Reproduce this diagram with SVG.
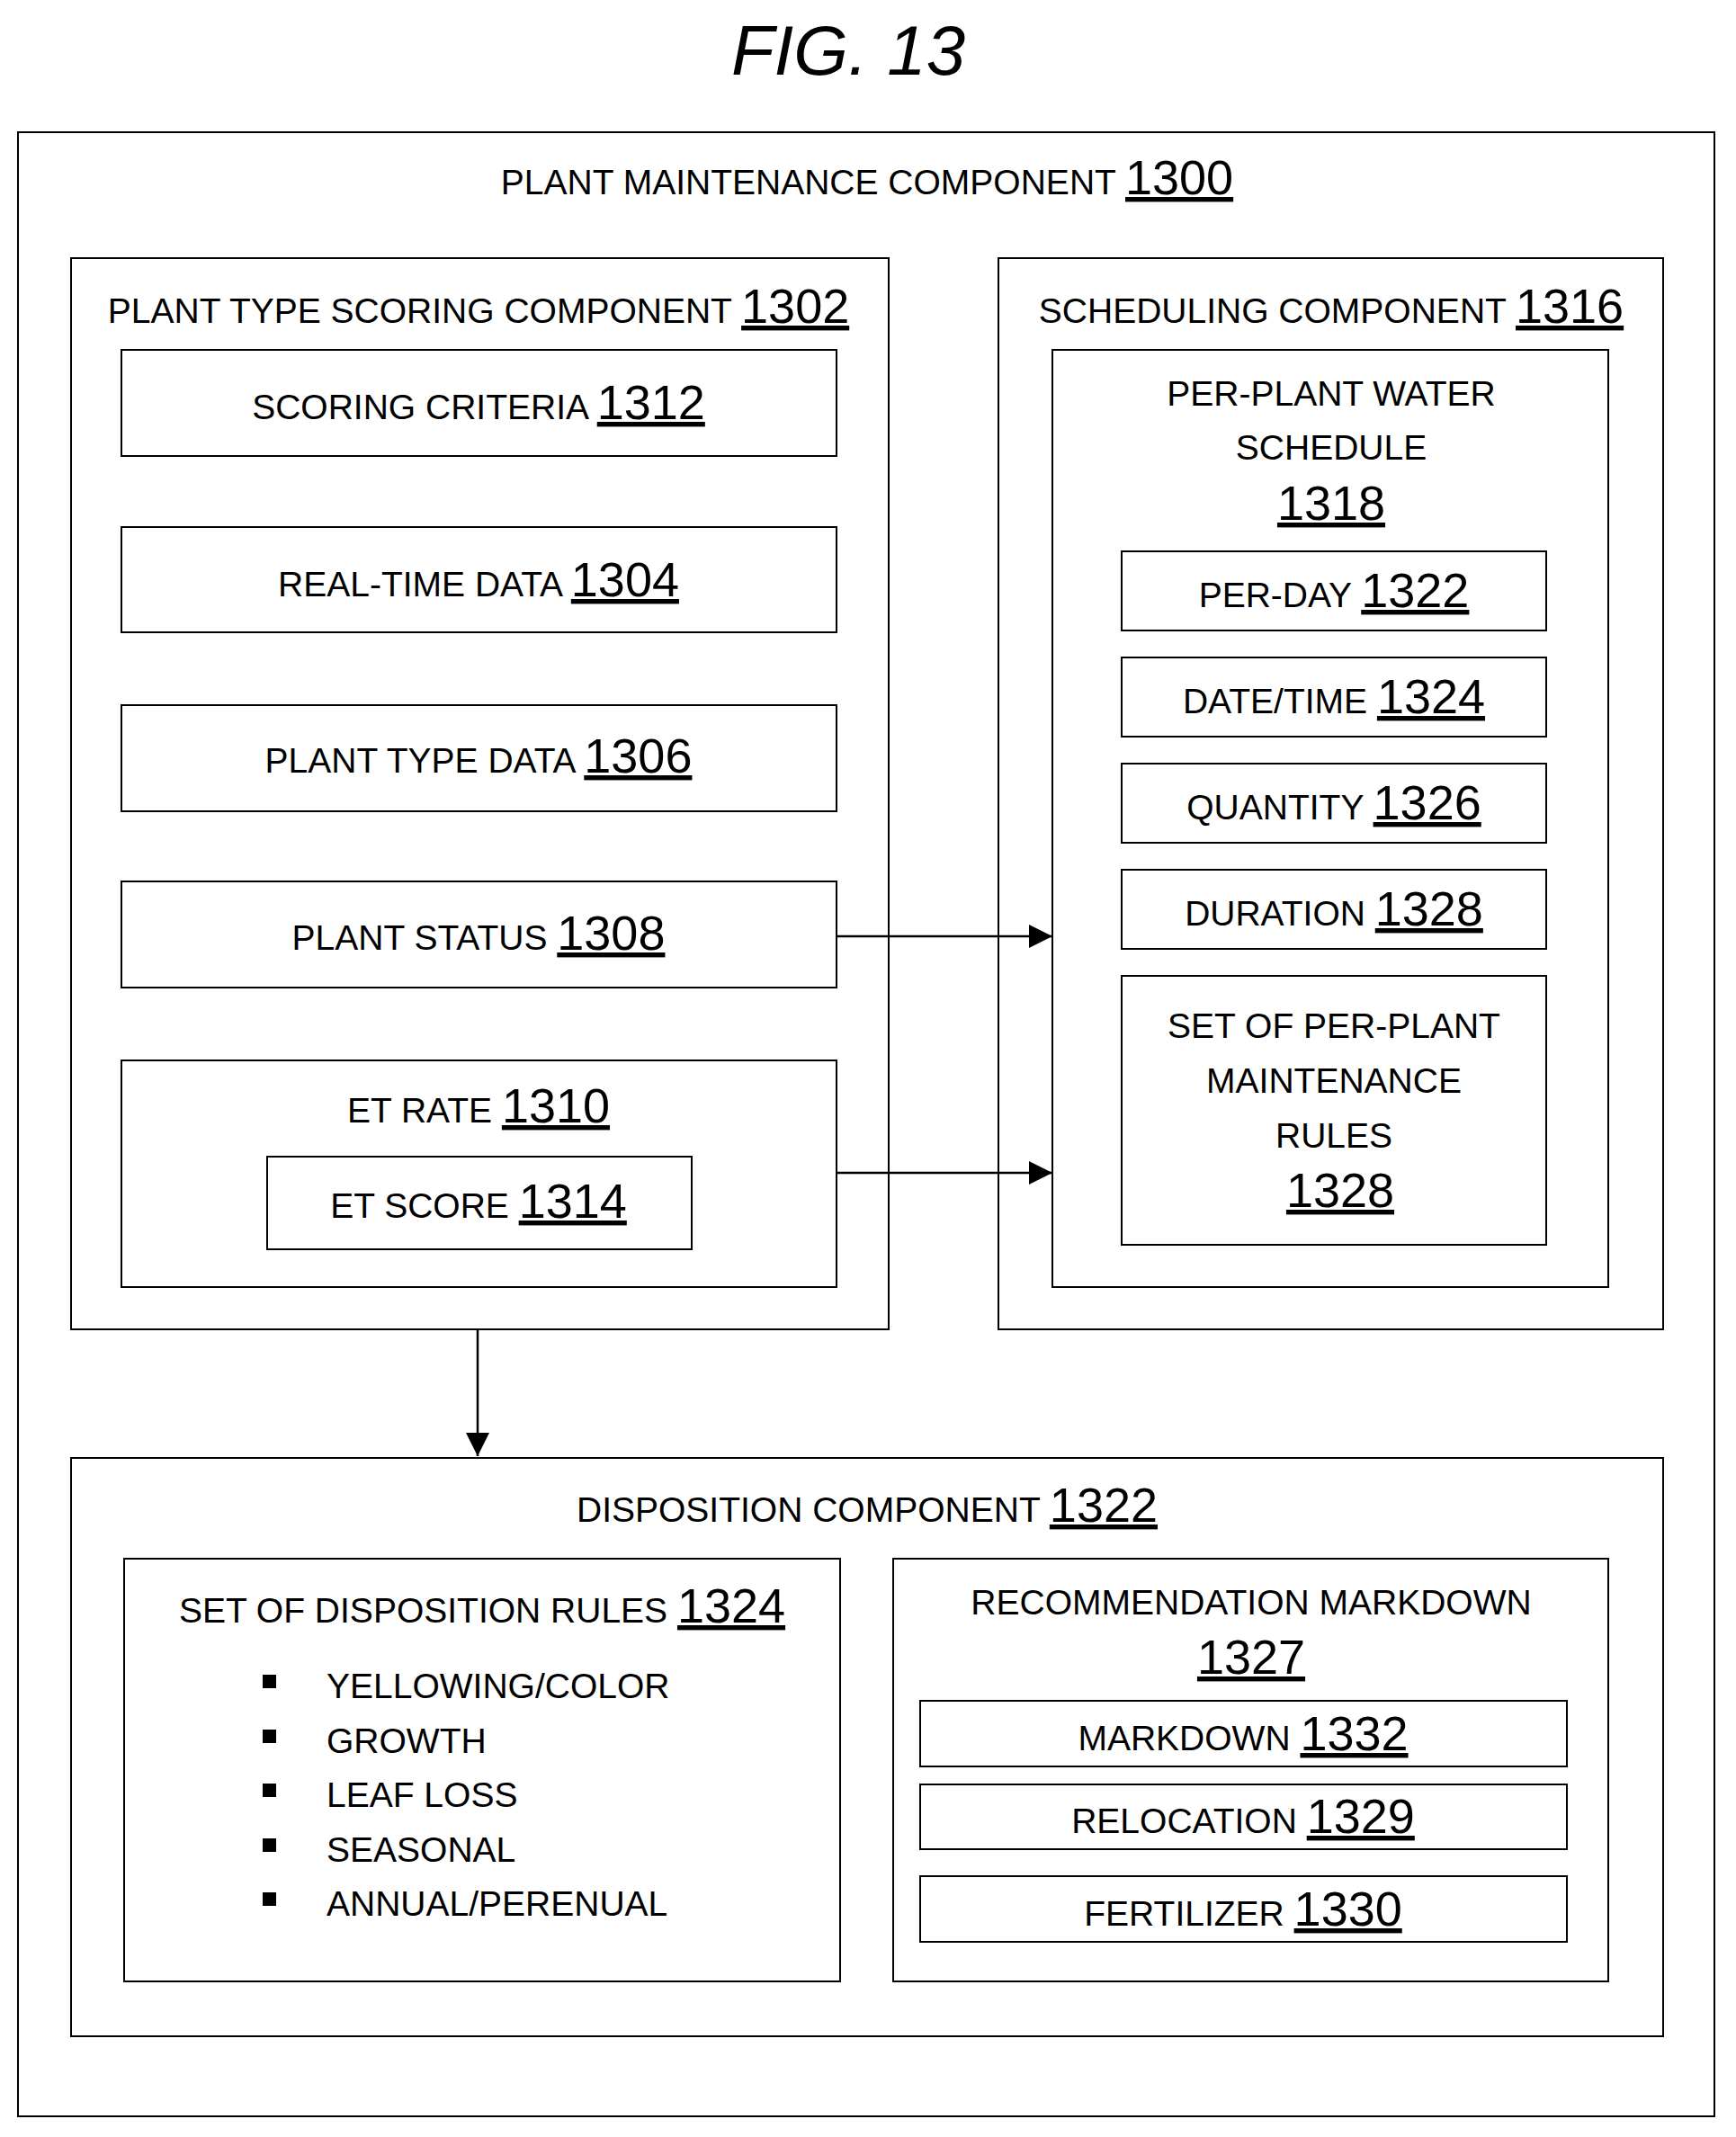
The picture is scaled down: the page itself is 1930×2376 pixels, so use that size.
<svg xmlns="http://www.w3.org/2000/svg" width="1930" height="2376" viewBox="0 0 1930 2376">
<style>
rect{fill:none;stroke:#000;stroke-width:2}
text{font-family:"Liberation Sans",Arial,sans-serif;font-size:39px;fill:#000;text-anchor:middle}
.n{font-size:54px;text-decoration:underline}
.l{text-anchor:start}
line{stroke:#000;stroke-width:2.5}
</style>
<defs><marker id="a" markerWidth="12" markerHeight="12" refX="11" refY="6" orient="auto" markerUnits="userSpaceOnUse"><path d="M0,0 L12,6 L0,12 Z" fill="#000" transform="scale(2.2) translate(-6,-3.3)"/></marker>
<marker id="b" viewBox="0 0 10 10" refX="10" refY="5" markerWidth="26" markerHeight="26" orient="auto" markerUnits="userSpaceOnUse"><path d="M0,0 L10,5 L0,10 Z" fill="#000"/></marker></defs>
<rect x="0" y="0" width="1930" height="2376" style="fill:#fff;stroke:none"/>
<text x="943" y="83" style="font-size:78px;font-style:italic">FIG. 13</text>
<g id="n1300"><rect x="20" y="147" width="1886" height="2206"/><text x="964" y="216">PLANT MAINTENANCE COMPONENT <tspan class="n">1300</tspan></text></g>
<g id="n1302"><rect x="79" y="287" width="909" height="1191"/><text x="532" y="359">PLANT TYPE SCORING COMPONENT <tspan class="n">1302</tspan></text></g>
<g id="n1312"><rect x="135" y="389" width="795" height="118"/><text x="532" y="466">SCORING CRITERIA <tspan class="n">1312</tspan></text></g>
<g id="n1304"><rect x="135" y="586" width="795" height="117"/><text x="532" y="663">REAL-TIME DATA <tspan class="n">1304</tspan></text></g>
<g id="n1306"><rect x="135" y="784" width="795" height="118"/><text x="532" y="859">PLANT TYPE DATA <tspan class="n">1306</tspan></text></g>
<g id="n1308"><rect x="135" y="980" width="795" height="118"/><text x="532" y="1056">PLANT STATUS <tspan class="n">1308</tspan></text></g>
<g id="n1310"><rect x="135" y="1179" width="795" height="252"/><text x="532" y="1248">ET RATE <tspan class="n">1310</tspan></text></g>
<g id="n1314"><rect x="297" y="1286" width="472" height="103"/><text x="532" y="1354">ET SCORE <tspan class="n">1314</tspan></text></g>
<g id="n1316"><rect x="1110" y="287" width="739" height="1191"/><text x="1480" y="359">SCHEDULING COMPONENT <tspan class="n">1316</tspan></text></g>
<g id="n1318"><rect x="1170" y="389" width="618" height="1042"/><text x="1480" y="451">PER-PLANT WATER</text><text x="1480" y="511">SCHEDULE</text><text x="1480" y="578" class="n">1318</text></g>
<g id="n1322a"><rect x="1247" y="613" width="472" height="88"/><text x="1483" y="675">PER-DAY <tspan class="n">1322</tspan></text></g>
<g id="n1324a"><rect x="1247" y="731" width="472" height="88"/><text x="1483" y="793">DATE/TIME <tspan class="n">1324</tspan></text></g>
<g id="n1326"><rect x="1247" y="849" width="472" height="88"/><text x="1483" y="911">QUANTITY <tspan class="n">1326</tspan></text></g>
<g id="n1328a"><rect x="1247" y="967" width="472" height="88"/><text x="1483" y="1029">DURATION <tspan class="n">1328</tspan></text></g>
<g id="n1328b"><rect x="1247" y="1085" width="472" height="299"/><text x="1483" y="1154">SET OF PER-PLANT</text><text x="1483" y="1215">MAINTENANCE</text><text x="1483" y="1276">RULES</text><text x="1490" y="1342" class="n">1328</text></g>
<g id="n1322"><rect x="79" y="1621" width="1770" height="643"/><text x="964" y="1692">DISPOSITION COMPONENT <tspan class="n">1322</tspan></text></g>
<g id="n1324"><rect x="138" y="1733" width="796" height="470"/><text x="536" y="1804">SET OF DISPOSITION RULES <tspan class="n">1324</tspan></text>
<g style="fill:#000"><rect x="293" y="1863" width="13" height="13" style="fill:#000"/><rect x="293" y="1924" width="13" height="13" style="fill:#000"/><rect x="293" y="1984" width="13" height="13" style="fill:#000"/><rect x="293" y="2045" width="13" height="13" style="fill:#000"/><rect x="293" y="2105" width="13" height="13" style="fill:#000"/></g>
<text x="363" y="1888" class="l">YELLOWING/COLOR</text><text x="363" y="1949" class="l">GROWTH</text><text x="363" y="2009" class="l">LEAF LOSS</text><text x="363" y="2070" class="l">SEASONAL</text><text x="363" y="2130" class="l">ANNUAL/PERENUAL</text></g>
<g id="n1327"><rect x="993" y="1733" width="795" height="470"/><text x="1391" y="1795">RECOMMENDATION MARKDOWN</text><text x="1391" y="1861" class="n">1327</text></g>
<g id="n1332"><rect x="1023" y="1891" width="719" height="73"/><text x="1382" y="1946">MARKDOWN <tspan class="n">1332</tspan></text></g>
<g id="n1329"><rect x="1023" y="1984" width="719" height="72"/><text x="1382" y="2038">RELOCATION <tspan class="n">1329</tspan></text></g>
<g id="n1330"><rect x="1023" y="2086" width="719" height="73"/><text x="1382" y="2141">FERTILIZER <tspan class="n">1330</tspan></text></g>
<g id="connectors">
<line x1="930" y1="1041" x2="1170" y2="1041" marker-end="url(#b)"/>
<line x1="930" y1="1304" x2="1170" y2="1304" marker-end="url(#b)"/>
<line x1="531" y1="1478" x2="531" y2="1619" marker-end="url(#b)"/>
</g>
</svg>
